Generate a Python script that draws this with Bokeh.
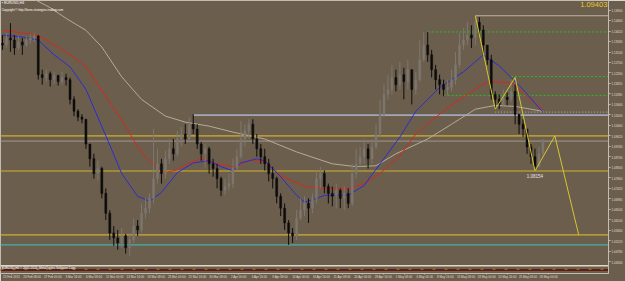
from bokeh.plotting import figure
from bokeh.models import Range1d, FixedTicker, Label, NumeralTickFormatter, ColumnDataSource
from bokeh.embed import file_html
from bokeh.resources import INLINE

# ---------------- data (EURUSD, 12h buckets) ----------------
close = [1.1343, 1.1373, 1.1364, 1.1331, 1.1356, 1.1343, 1.1364, 1.1373, 1.1381, 1.1219,
         1.1207, 1.1223, 1.1198, 1.1215, 1.1190, 1.1207, 1.1198, 1.1115, 1.1066, 1.1041,
         1.1032, 1.0928, 1.0866, 1.0804, 1.0825, 1.0721, 1.0638, 1.0555, 1.0534, 1.0513,
         1.0543, 1.0493, 1.0526, 1.0584, 1.0568, 1.0638, 1.0659, 1.0700, 1.0783, 1.0845,
         1.0804, 1.0866, 1.0908, 1.0887, 1.0949, 1.0970, 1.0949, 1.1011, 1.0991, 1.0928,
         1.0887, 1.0908, 1.0845, 1.0825, 1.0783, 1.0734, 1.0750, 1.0762, 1.0825, 1.0875,
         1.0949, 1.0983, 1.1011, 1.0949, 1.0908, 1.0875, 1.0845, 1.0804, 1.0783, 1.0709,
         1.0659, 1.0597, 1.0555, 1.0543, 1.0617, 1.0651, 1.0679, 1.0659, 1.0700, 1.0783,
         1.0804, 1.0750, 1.0721, 1.0709, 1.0734, 1.0700, 1.0721, 1.0679, 1.0804, 1.0845,
         1.0875, 1.0908, 1.0866, 1.0916, 1.0970, 1.1053, 1.1136, 1.1157, 1.1207, 1.1177,
         1.1219, 1.1190, 1.1240, 1.1157, 1.1198, 1.1281, 1.1343, 1.1302, 1.1240, 1.1198,
         1.1177, 1.1157, 1.1165, 1.1198, 1.1260, 1.1343, 1.1364, 1.1385, 1.1373, 1.1439,
         1.1406, 1.1343, 1.1281, 1.1136, 1.1115, 1.1094, 1.1124, 1.1115, 1.1149, 1.1053,
         1.1011, 1.0991, 1.0916, 1.0875, 1.0833, 1.0887, 1.0940]
high = [1.1385, 1.1394, 1.1435, 1.1385, 1.1381, 1.1373, 1.1381, 1.1389, 1.1394, 1.1385,
        1.1240, 1.1240, 1.1232, 1.1232, 1.1219, 1.1232, 1.1223, 1.1207, 1.1128, 1.1074,
        1.1053, 1.1032, 1.0928, 1.0887, 1.0858, 1.0833, 1.0742, 1.0651, 1.0584, 1.0568,
        1.0576, 1.0551, 1.0555, 1.0617, 1.0609, 1.0679, 1.0700, 1.0721, 1.0991, 1.0908,
        1.0866, 1.0900, 1.0949, 1.0949, 1.0983, 1.0999, 1.1011, 1.1041, 1.1053, 1.1011,
        1.0937, 1.0928, 1.0916, 1.0866, 1.0845, 1.0791, 1.0783, 1.0804, 1.0866, 1.0908,
        1.1024, 1.1011, 1.1032, 1.1032, 1.0970, 1.0928, 1.0908, 1.0866, 1.0833, 1.0791,
        1.0721, 1.0679, 1.0609, 1.0576, 1.0651, 1.0700, 1.0709, 1.0700, 1.0721, 1.0817,
        1.0833, 1.0817, 1.0762, 1.0750, 1.0762, 1.0742, 1.0750, 1.0742, 1.0845, 1.0908,
        1.0916, 1.0949, 1.0928, 1.0949, 1.1011, 1.1115, 1.1177, 1.1219, 1.1260, 1.1240,
        1.1273, 1.1248, 1.1281, 1.1240, 1.1232, 1.1364, 1.1398, 1.1398, 1.1323, 1.1260,
        1.1219, 1.1198, 1.1198, 1.1240, 1.1315, 1.1394, 1.1414, 1.1439, 1.1426, 1.1466,
        1.1460, 1.1426, 1.1343, 1.1302, 1.1149, 1.1136, 1.1157, 1.1144, 1.1198, 1.1177,
        1.1053, 1.1032, 1.0991, 1.0928, 1.0908, 1.0916, 1.0949]
low = [1.1323, 1.1331, 1.1315, 1.1302, 1.1323, 1.1302, 1.1335, 1.1347, 1.1356, 1.1198,
       1.1177, 1.1190, 1.1169, 1.1181, 1.1173, 1.1177, 1.1173, 1.1094, 1.1045, 1.1024,
       1.1015, 1.0908, 1.0833, 1.0783, 1.0775, 1.0700, 1.0609, 1.0526, 1.0501, 1.0485,
       1.0493, 1.0468, 1.0460, 1.0513, 1.0543, 1.0555, 1.0617, 1.0638, 1.0679, 1.0762,
       1.0762, 1.0783, 1.0845, 1.0858, 1.0875, 1.0916, 1.0928, 1.0941, 1.0970, 1.0908,
       1.0858, 1.0825, 1.0804, 1.0791, 1.0742, 1.0709, 1.0713, 1.0734, 1.0742, 1.0825,
       1.0866, 1.0916, 1.0949, 1.0928, 1.0875, 1.0845, 1.0817, 1.0771, 1.0742, 1.0679,
       1.0626, 1.0568, 1.0505, 1.0513, 1.0526, 1.0609, 1.0626, 1.0597, 1.0638, 1.0679,
       1.0742, 1.0721, 1.0679, 1.0667, 1.0659, 1.0659, 1.0651, 1.0659, 1.0667, 1.0783,
       1.0833, 1.0845, 1.0825, 1.0845, 1.0908, 1.0958, 1.1041, 1.1115, 1.1136, 1.1149,
       1.1157, 1.1115, 1.1157, 1.1094, 1.1136, 1.1190, 1.1273, 1.1273, 1.1207, 1.1157,
       1.1136, 1.1128, 1.1132, 1.1149, 1.1177, 1.1248, 1.1323, 1.1343, 1.1331, 1.1343,
       1.1385, 1.1302, 1.1260, 1.1115, 1.1074, 1.1074, 1.1082, 1.1090, 1.1103, 1.1011,
       1.0970, 1.0958, 1.0887, 1.0845, 1.0815, 1.0833, 1.0875]
first_open = 1.1350

# moving averages (bar index, price)
blue_x = [0, 5, 9, 13, 17, 21, 24, 27, 30, 34, 37, 40, 44, 48, 52, 55, 58, 60, 64, 66, 70, 74,
          76, 79, 81, 87, 91, 95, 100, 104, 110, 116, 121, 125, 131, 136]
blue_y = [1.1385, 1.1377, 1.1364, 1.1302, 1.1252, 1.1157, 1.1040, 1.0924, 1.0804, 1.0709,
          1.0688, 1.0725, 1.0808, 1.0849, 1.0858, 1.0833, 1.0816, 1.0849, 1.0866, 1.0858,
          1.0791, 1.0713, 1.0684, 1.0700, 1.0713, 1.0713, 1.0754, 1.0845, 1.0957, 1.1065,
          1.1165, 1.1231, 1.1302, 1.1256, 1.1157, 1.1061]
red_x = [0, 9, 16, 21, 26, 31, 34, 37, 41, 44, 47, 50, 54, 58, 63, 66, 70, 76, 81, 87, 91, 95,
         100, 104, 109, 114, 122, 128, 132, 136]
red_y = [1.1406, 1.1385, 1.1314, 1.1252, 1.1127, 1.1003, 1.0916, 1.0854, 1.0808, 1.0820,
         1.0849, 1.0866, 1.0845, 1.0833, 1.0862, 1.0854, 1.0796, 1.0750, 1.0742, 1.0742,
         1.0762, 1.0804, 1.0878, 1.0970, 1.1040, 1.1103, 1.1190, 1.1186, 1.1127, 1.1074]
grey_x = [3, 8, 12, 16, 21, 25, 30, 35, 41, 46, 52, 58, 66, 74, 83, 89, 94, 99, 107, 113, 119,
          124, 129, 136]
grey_y = [1.1590, 1.1535, 1.1500, 1.1455, 1.1405, 1.1335, 1.1210, 1.1115, 1.1045, 1.1020,
          1.1003, 1.0978, 1.0949, 1.0895, 1.0845, 1.0833, 1.0837, 1.0887, 1.0949, 1.1011,
          1.1074, 1.1090, 1.1086, 1.1065]

# zigzag / projection
zz_x = [119, 124, 129, 134, 139, 145]
zz_y = [1.1466, 1.1074, 1.1207, 1.0815, 1.0962, 1.0547]

# horizontal levels
green_start = [107, 128, 111]
green_price = [1.1398, 1.1211, 1.1132]
high_start, high_price = 119, 1.1466
dotted_start, dotted_price = 124, 1.1062
res_start, res_price = 48, 1.1049
yellow_levels = [1.0962, 1.0815, 1.0547]
bid_price = 1.09403
low_price = 1.08154
teal_level = 1.0505

time_labels = ["23 Feb 2015", "24 Feb 08:00", "27 Feb 00:00", "3 Mar 16:00", "6 Mar 08:00",
               "11 Mar 00:00", "13 Mar 16:00", "18 Mar 08:00", "23 Mar 00:00", "25 Mar 16:00",
               "30 Mar 08:00", "2 Apr 00:00", "6 Apr 16:00", "9 Apr 08:00", "14 Apr 00:00",
               "16 Apr 16:00", "21 Apr 08:00", "24 Apr 00:00", "28 Apr 16:00", "1 May 08:00",
               "6 May 00:00", "8 May 16:00", "13 May 08:00", "18 May 00:00", "20 May 16:00",
               "25 May 08:00", "28 May 00:00"]

# ---------------- styling ----------------
BG = "#6c5e4d"
X0, X1 = -0.5, 152.5
Y0, Y1 = 1.0385, 1.1530

opens = [first_open] + close[:-1]
idx = list(range(len(close)))
up = [c >= o for o, c in zip(opens, close)]
col = ["#7d776e" if u else "#0d0d0d" for u in up]
src = ColumnDataSource(dict(x=idx, o=opens, c=close, h=high, l=low,
                            top=[max(a, b) for a, b in zip(opens, close)],
                            bot=[min(a, b) for a, b in zip(opens, close)], col=col))

p = figure(width=625, height=281, x_range=Range1d(X0, X1), y_range=Range1d(Y0, Y1),
           output_backend="svg", toolbar_location=None, y_axis_location="right",
           min_border_left=0, min_border_top=0, min_border_right=13, min_border_bottom=5,
           background_fill_color=BG, border_fill_color=BG)
p.grid.visible = False
p.outline_line_color = "#c4bcb0"

# full-width levels
for lv in yellow_levels:
    p.segment(x0=[X0], x1=[X1], y0=[lv], y1=[lv], line_color="#cdb12c", line_width=1.2)
p.segment(x0=[X0], x1=[X1], y0=[bid_price], y1=[bid_price], line_color="#9e988f", line_width=1)
p.segment(x0=[X0], x1=[X1], y0=[teal_level], y1=[teal_level], line_color="#3fb3b0", line_width=1.2)
p.segment(x0=[res_start], x1=[X1], y0=[res_price], y1=[res_price], line_color="#9fa9ba", line_width=1.8)
p.segment(x0=[high_start], x1=[X1], y0=[high_price], y1=[high_price], line_color="#bcb4a6", line_width=1)
p.segment(x0=[dotted_start], x1=[X1], y0=[dotted_price], y1=[dotted_price], line_color="#b8b2a4",
          line_width=1, line_dash="1 2")
p.segment(x0=green_start, x1=[X1] * len(green_start), y0=green_price, y1=green_price,
          line_color="#22c022", line_width=1, line_dash="2 2")

# moving averages
p.line(grey_x, grey_y, line_color="#b6aa96", line_width=1)
p.line(red_x, red_y, line_color="#d42a1e", line_width=1)
p.line(blue_x, blue_y, line_color="#2c2cd2", line_width=1)

# candles
p.segment(x0="x", x1="x", y0="h", y1="l", line_color="col", line_width=1, source=src)
p.vbar(x="x", width=0.5, top="top", bottom="bot", fill_color="col", line_color="col",
       line_width=0.5, source=src)

# zigzag projection
p.line(zz_x, zz_y, line_color="#d6c62e", line_width=1)

# low label
p.text(x=[134], y=[low_price], text=["1.08154"], text_color="#e6e6e6", text_font_size="4.5px",
       text_align="center", text_baseline="top", y_offset=3)

# indicator strip at the bottom
p.segment(x0=[X0], x1=[X1], y0=[1.04178], y1=[1.04178], line_color="#ddd6cc", line_width=1.5)
p.segment(x0=[X0], x1=[X1], y0=[1.0400], y1=[1.0400], line_color="#5e1c12", line_width=2)
p.segment(x0=[X0], x1=[X1], y0=[1.0403], y1=[1.0403], line_color="#c27a22", line_width=1,
          line_dash="3 9")

# texts
p.add_layout(Label(x=-0.2, y=1.1528, text="\u25aa EURUSD,H4", text_color="#ffffff",
                   text_font_size="3.5px", text_baseline="top"))
p.add_layout(Label(x=-0.2, y=1.1499, text="Copyright \u00a9 http://forex-strategies-trading.com",
                   text_color="#ffffff", text_font_size="3px", text_baseline="top"))
p.add_layout(Label(x=-0.2, y=1.04155, text="EURUSD,H4   \u00a9 2001-2014, MetaQuotes Software Corp.",
                   text_color="#ffffff", text_font_size="3px", text_baseline="top"))
p.add_layout(Label(x=152.2, y=1.1522, text="1.09403", text_color="#e9c92a",
                   text_font_size="7.5px", text_align="right", text_baseline="top"))

# price axis (right)
yt = [round(1.1490 - 0.0044 * k, 4) for k in range(25)]
ax = p.yaxis[0]
ax.ticker = FixedTicker(ticks=yt)
ax.formatter = NumeralTickFormatter(format="0.00000")
ax.major_label_text_font_size = "3px"
ax.major_label_text_color = "#e2ddd5"
ax.major_tick_out = 2
ax.major_tick_in = 0
ax.minor_tick_out = 0
ax.minor_tick_in = 0
ax.major_label_standoff = 1
ax.axis_line_color = "#c4bcb0"
ax.major_tick_line_color = "#c4bcb0"

# time axis
xt = [round(2.25 + 5.2 * k, 2) for k in range(len(time_labels))]
xa = p.xaxis[0]
xa.ticker = FixedTicker(ticks=xt)
xa.major_label_overrides = {t: s for t, s in zip(xt, time_labels)}
xa.major_label_text_font_size = "3px"
xa.major_label_text_color = "#e2ddd5"
xa.major_tick_out = 1
xa.major_tick_in = 0
xa.minor_tick_out = 0
xa.minor_tick_in = 0
xa.major_label_standoff = 1
xa.axis_line_color = "#c4bcb0"
xa.major_tick_line_color = "#c4bcb0"

open("out.html", "w").write(file_html(p, INLINE))
